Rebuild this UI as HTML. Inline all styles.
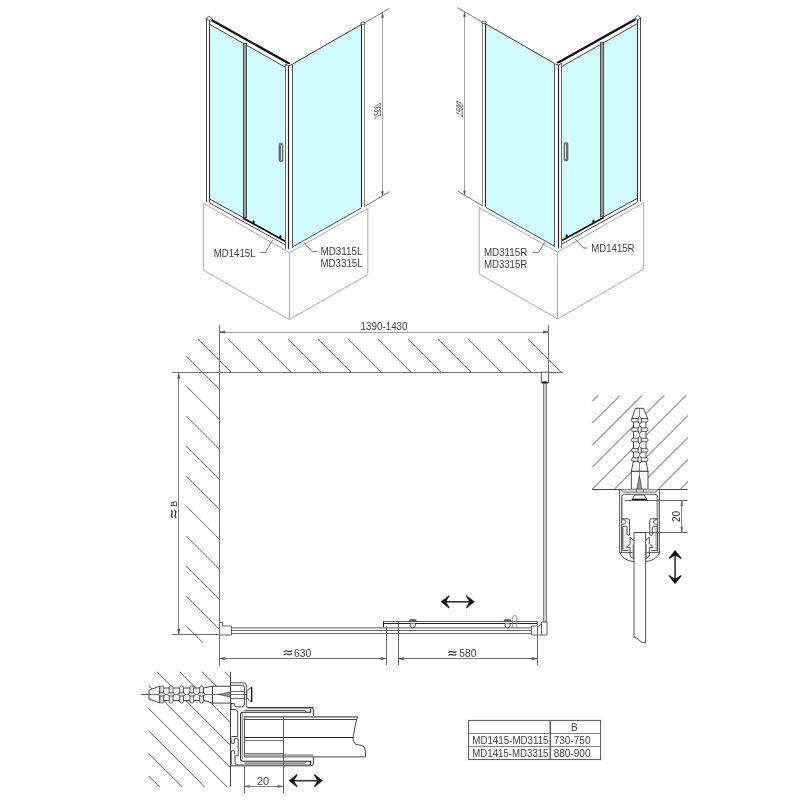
<!DOCTYPE html>
<html><head><meta charset="utf-8"><style>
html,body{margin:0;padding:0;background:#fff;}
svg{display:block;will-change:transform;}
text{font-family:"Liberation Sans",sans-serif;}
</style></head><body>
<svg width="800" height="800" viewBox="0 0 800 800">
<rect width="800" height="800" fill="#fff"/>
<g font-family="Liberation Sans, sans-serif">
<g>
<polygon points="203.40,203.30 289.40,252.70 367.80,208.40 367.80,274.70 289.40,319.60 203.40,270.00" fill="#fff" stroke="#ababab" stroke-width="1" />
<line x1="289.50" y1="252.70" x2="289.50" y2="319.60" stroke="#ababab" stroke-width="1" />
<polygon points="209.70,24.33 243.30,43.38 243.30,217.64 209.70,199.06" fill="#d2fdfd" stroke="none" stroke-width="0" />
<polygon points="246.60,45.25 285.30,67.20 285.30,240.86 246.60,219.46" fill="#d2fdfd" stroke="none" stroke-width="0" />
<polygon points="292.70,64.00 360.60,24.96 360.60,208.44 292.70,246.80" fill="#d2fdfd" stroke="none" stroke-width="0" />
<line x1="292.70" y1="64.00" x2="361.50" y2="24.44" stroke="#333" stroke-width="1" />
<line x1="292.70" y1="246.80" x2="361.30" y2="208.04" stroke="#3a3a3a" stroke-width="0.9" />
<line x1="211.50" y1="20.00" x2="290.00" y2="64.04" stroke="#111" stroke-width="2.3" />
<line x1="210.00" y1="24.50" x2="285.30" y2="67.20" stroke="#333" stroke-width="0.9" />
<line x1="209.60" y1="199.00" x2="243.30" y2="217.64" stroke="#333" stroke-width="1" />
<line x1="243.30" y1="218.14" x2="285.00" y2="241.20" stroke="#111" stroke-width="1.8" />
<line x1="209.60" y1="203.00" x2="285.00" y2="244.70" stroke="#333" stroke-width="0.9" />
<ellipse cx="253.6" cy="222.0" rx="1.1" ry="1.7" fill="#111"/>
<ellipse cx="280.4" cy="236.7" rx="1.1" ry="1.7" fill="#111"/>
<rect x="206.5" y="18.5" width="3.2" height="183.8" fill="#fff" stroke="none"/>
<line x1="206.50" y1="18.50" x2="206.50" y2="202.30" stroke="#333" stroke-width="0.9" />
<line x1="209.50" y1="19.50" x2="209.50" y2="202.30" stroke="#333" stroke-width="1.1" />
<polygon points="206.00,18.50 209.50,16.00 212.00,18.50 209.50,20.50" fill="#fff" stroke="#333" stroke-width="0.8" />
<rect x="243.3" y="43.38" width="3.3" height="174.25" fill="#999" stroke="#333" stroke-width="0.8"/>
<rect x="285.4" y="64" width="7.1" height="185" fill="#fff" stroke="none"/>
<line x1="285.50" y1="64.00" x2="285.50" y2="249.00" stroke="#666" stroke-width="1.0" />
<line x1="292.50" y1="64.50" x2="292.50" y2="248.00" stroke="#555" stroke-width="1.0" />
<line x1="288.50" y1="65.50" x2="288.50" y2="249.00" stroke="#222" stroke-width="1.2" />
<polyline points="285.40,64.00 288.60,65.80 292.50,64.30" fill="none" stroke="#333" stroke-width="0.9" />
<rect x="361.25" y="23" width="3.25" height="184.3" fill="#fff" stroke="none"/>
<line x1="361.50" y1="23.50" x2="361.50" y2="207.30" stroke="#222" stroke-width="1.1" />
<line x1="364.50" y1="23.50" x2="364.50" y2="206.80" stroke="#888" stroke-width="1.0" />
<ellipse cx="362.8" cy="23.2" rx="2.3" ry="1.1" fill="#fff" stroke="#333" stroke-width="0.8"/>
<rect x="279" y="143.2" width="3.9" height="18.5" rx="1.6" fill="#777" stroke="#444" stroke-width="0.6"/>
<rect x="281" y="145" width="1" height="15" fill="#ddd"/>
<line x1="364.50" y1="23.00" x2="389.50" y2="8.30" stroke="#555" stroke-width="0.8" />
<line x1="364.60" y1="206.50" x2="389.50" y2="191.60" stroke="#555" stroke-width="0.8" />
<line x1="382.50" y1="13.50" x2="382.50" y2="195.50" stroke="#999" stroke-width="0.9" />
<polygon points="382.50,13.00 383.40,17.50 381.60,17.50" fill="#555" stroke="#555" stroke-width="0.5" />
<polygon points="382.50,196.00 381.60,191.50 383.40,191.50" fill="#555" stroke="#555" stroke-width="0.5" />
</g>
<g transform="matrix(-1,0,0,1,847,-0.7)">
<g>
<polygon points="203.40,203.30 289.40,252.70 367.80,208.40 367.80,274.70 289.40,319.60 203.40,270.00" fill="#fff" stroke="#ababab" stroke-width="1" />
<line x1="289.50" y1="252.70" x2="289.50" y2="319.60" stroke="#ababab" stroke-width="1" />
<polygon points="209.70,24.33 243.30,43.38 243.30,217.64 209.70,199.06" fill="#d2fdfd" stroke="none" stroke-width="0" />
<polygon points="246.60,45.25 285.30,67.20 285.30,240.86 246.60,219.46" fill="#d2fdfd" stroke="none" stroke-width="0" />
<polygon points="292.70,64.00 360.60,24.96 360.60,208.44 292.70,246.80" fill="#d2fdfd" stroke="none" stroke-width="0" />
<line x1="292.70" y1="64.00" x2="361.50" y2="24.44" stroke="#333" stroke-width="1" />
<line x1="292.70" y1="246.80" x2="361.30" y2="208.04" stroke="#3a3a3a" stroke-width="0.9" />
<line x1="211.50" y1="20.00" x2="290.00" y2="64.04" stroke="#111" stroke-width="2.3" />
<line x1="210.00" y1="24.50" x2="285.30" y2="67.20" stroke="#333" stroke-width="0.9" />
<line x1="209.60" y1="199.00" x2="243.30" y2="217.64" stroke="#333" stroke-width="1" />
<line x1="243.30" y1="218.14" x2="285.00" y2="241.20" stroke="#111" stroke-width="1.8" />
<line x1="209.60" y1="203.00" x2="285.00" y2="244.70" stroke="#333" stroke-width="0.9" />
<ellipse cx="253.6" cy="222.0" rx="1.1" ry="1.7" fill="#111"/>
<ellipse cx="280.4" cy="236.7" rx="1.1" ry="1.7" fill="#111"/>
<rect x="206.5" y="18.5" width="3.2" height="183.8" fill="#fff" stroke="none"/>
<line x1="206.50" y1="18.50" x2="206.50" y2="202.30" stroke="#333" stroke-width="0.9" />
<line x1="209.50" y1="19.50" x2="209.50" y2="202.30" stroke="#333" stroke-width="1.1" />
<polygon points="206.00,18.50 209.50,16.00 212.00,18.50 209.50,20.50" fill="#fff" stroke="#333" stroke-width="0.8" />
<rect x="243.3" y="43.38" width="3.3" height="174.25" fill="#999" stroke="#333" stroke-width="0.8"/>
<rect x="285.4" y="64" width="7.1" height="185" fill="#fff" stroke="none"/>
<line x1="285.50" y1="64.00" x2="285.50" y2="249.00" stroke="#666" stroke-width="1.0" />
<line x1="292.50" y1="64.50" x2="292.50" y2="248.00" stroke="#555" stroke-width="1.0" />
<line x1="288.50" y1="65.50" x2="288.50" y2="249.00" stroke="#222" stroke-width="1.2" />
<polyline points="285.40,64.00 288.60,65.80 292.50,64.30" fill="none" stroke="#333" stroke-width="0.9" />
<rect x="361.25" y="23" width="3.25" height="184.3" fill="#fff" stroke="none"/>
<line x1="361.50" y1="23.50" x2="361.50" y2="207.30" stroke="#222" stroke-width="1.1" />
<line x1="364.50" y1="23.50" x2="364.50" y2="206.80" stroke="#888" stroke-width="1.0" />
<ellipse cx="362.8" cy="23.2" rx="2.3" ry="1.1" fill="#fff" stroke="#333" stroke-width="0.8"/>
<rect x="279" y="143.2" width="3.9" height="18.5" rx="1.6" fill="#777" stroke="#444" stroke-width="0.6"/>
<rect x="281" y="145" width="1" height="15" fill="#ddd"/>
<line x1="364.50" y1="23.00" x2="389.50" y2="8.30" stroke="#555" stroke-width="0.8" />
<line x1="364.60" y1="206.50" x2="389.50" y2="191.60" stroke="#555" stroke-width="0.8" />
<line x1="382.50" y1="13.50" x2="382.50" y2="195.50" stroke="#999" stroke-width="0.9" />
<polygon points="382.50,13.00 383.40,17.50 381.60,17.50" fill="#555" stroke="#555" stroke-width="0.5" />
<polygon points="382.50,196.00 381.60,191.50 383.40,191.50" fill="#555" stroke="#555" stroke-width="0.5" />
</g>
</g>
<text x="213.70" y="257.10" font-size="10" textLength="41.80" lengthAdjust="spacingAndGlyphs" fill="#404040" >MD1415L</text>
<text x="320.50" y="254.80" font-size="10" textLength="42.10" lengthAdjust="spacingAndGlyphs" fill="#404040" >MD3115L</text>
<text x="320.50" y="266.80" font-size="10" textLength="42.10" lengthAdjust="spacingAndGlyphs" fill="#404040" >MD3315L</text>
<text x="483.90" y="256.00" font-size="10" textLength="43.40" lengthAdjust="spacingAndGlyphs" fill="#404040" >MD3115R</text>
<text x="483.90" y="268.00" font-size="10" textLength="43.40" lengthAdjust="spacingAndGlyphs" fill="#404040" >MD3315R</text>
<text x="591.30" y="251.60" font-size="10" textLength="43.20" lengthAdjust="spacingAndGlyphs" fill="#404040" >MD1415R</text>
<polyline points="272.90,239.60 265.40,252.60 259.70,252.60" fill="none" stroke="#555" stroke-width="0.8" />
<polyline points="303.80,242.30 312.30,251.60 317.50,251.60" fill="none" stroke="#555" stroke-width="0.8" />
<polyline points="544.80,242.30 538.60,252.40 532.50,252.40" fill="none" stroke="#555" stroke-width="0.8" />
<polyline points="575.00,238.80 583.60,248.00 587.60,248.00" fill="none" stroke="#555" stroke-width="0.8" />
<g transform="translate(381,116.3) rotate(-90) skewX(30)"><text x="0" y="0" font-size="9.6" textLength="14" lengthAdjust="spacingAndGlyphs" fill="#333">1500</text></g>
<g transform="translate(462.5,118) rotate(-90) skewX(-30)"><text x="0" y="0" font-size="9.6" textLength="14" lengthAdjust="spacingAndGlyphs" fill="#333">1500</text></g>
<line x1="198.00" y1="339.00" x2="231.20" y2="372.20" stroke="#555" stroke-width="0.9" />
<line x1="228.00" y1="339.00" x2="261.20" y2="372.20" stroke="#555" stroke-width="0.9" />
<line x1="258.00" y1="339.00" x2="291.20" y2="372.20" stroke="#555" stroke-width="0.9" />
<line x1="288.00" y1="339.00" x2="321.20" y2="372.20" stroke="#555" stroke-width="0.9" />
<line x1="318.00" y1="339.00" x2="351.20" y2="372.20" stroke="#555" stroke-width="0.9" />
<line x1="348.00" y1="339.00" x2="381.20" y2="372.20" stroke="#555" stroke-width="0.9" />
<line x1="378.00" y1="339.00" x2="411.20" y2="372.20" stroke="#555" stroke-width="0.9" />
<line x1="408.00" y1="339.00" x2="441.20" y2="372.20" stroke="#555" stroke-width="0.9" />
<line x1="438.00" y1="339.00" x2="471.20" y2="372.20" stroke="#555" stroke-width="0.9" />
<line x1="468.00" y1="339.00" x2="501.20" y2="372.20" stroke="#555" stroke-width="0.9" />
<line x1="498.00" y1="339.00" x2="531.20" y2="372.20" stroke="#555" stroke-width="0.9" />
<line x1="528.00" y1="339.00" x2="561.00" y2="372.00" stroke="#555" stroke-width="0.9" />
<line x1="186.30" y1="356.10" x2="219.60" y2="389.40" stroke="#555" stroke-width="0.9" />
<line x1="186.30" y1="386.10" x2="219.60" y2="419.40" stroke="#555" stroke-width="0.9" />
<line x1="186.30" y1="416.10" x2="219.60" y2="449.40" stroke="#555" stroke-width="0.9" />
<line x1="186.30" y1="446.10" x2="219.60" y2="479.40" stroke="#555" stroke-width="0.9" />
<line x1="186.30" y1="476.10" x2="219.60" y2="509.40" stroke="#555" stroke-width="0.9" />
<line x1="186.30" y1="506.10" x2="219.60" y2="539.40" stroke="#555" stroke-width="0.9" />
<line x1="186.30" y1="536.10" x2="219.60" y2="569.40" stroke="#555" stroke-width="0.9" />
<line x1="186.30" y1="566.10" x2="219.60" y2="599.40" stroke="#555" stroke-width="0.9" />
<line x1="186.30" y1="596.10" x2="219.60" y2="629.40" stroke="#555" stroke-width="0.9" />
<line x1="186.30" y1="626.10" x2="203.00" y2="642.80" stroke="#555" stroke-width="0.9" />
<line x1="219.50" y1="325.00" x2="219.50" y2="666.50" stroke="#707070" stroke-width="1" />
<line x1="172.00" y1="372.50" x2="562.50" y2="372.50" stroke="#707070" stroke-width="1" />
<line x1="172.00" y1="634.50" x2="219.60" y2="634.50" stroke="#707070" stroke-width="1" />
<line x1="219.60" y1="332.50" x2="548.70" y2="332.50" stroke="#999" stroke-width="0.9" />
<polygon points="219.80,332.00 224.80,330.80 224.80,333.20" fill="#555" stroke="#555" stroke-width="0.5" />
<polygon points="548.50,332.00 543.50,333.20 543.50,330.80" fill="#555" stroke="#555" stroke-width="0.5" />
<line x1="548.50" y1="325.00" x2="548.50" y2="372.20" stroke="#707070" stroke-width="1" />
<text x="360.60" y="330.00" font-size="10" textLength="46.90" lengthAdjust="spacingAndGlyphs" fill="#404040" >1390-1430</text>
<line x1="178.50" y1="373.80" x2="178.50" y2="633.80" stroke="#777" stroke-width="0.9" />
<polygon points="178.80,373.50 180.00,378.50 177.60,378.50" fill="#555" stroke="#555" stroke-width="0.5" />
<polygon points="178.80,634.00 177.60,629.00 180.00,629.00" fill="#555" stroke="#555" stroke-width="0.5" />
<g transform="translate(176.75,517.75) rotate(-90)">
<path d="M0.00,-4.00 C2.25,-7.90 5.25,-1.90 7.50,-5.80" fill="none" stroke="#404040" stroke-width="1.35"/>
<path d="M0.00,-0.40 C2.25,-4.30 5.25,1.70 7.50,-2.20" fill="none" stroke="#404040" stroke-width="1.35"/>
<text x="11" y="0" font-size="9.6" textLength="6" lengthAdjust="spacingAndGlyphs" fill="#333">B</text>
</g>
<rect x="541.3" y="372.2" width="7.4" height="10.6" fill="#fff" stroke="#4a4a4a" stroke-width="0.9"/>
<rect x="542" y="381.6" width="5.5" height="1.8" rx="0.9" fill="#111"/>
<rect x="543.6" y="383.4" width="2.8" height="238.6" fill="#ccc" stroke="#555" stroke-width="0.7"/>
<rect x="231.5" y="627" width="300" height="1.6" fill="#999"/>
<line x1="231.50" y1="630.50" x2="531.50" y2="630.50" stroke="#555" stroke-width="0.9" />
<line x1="231.50" y1="633.50" x2="531.50" y2="633.50" stroke="#555" stroke-width="0.9" />
<path d="M219.6,622.5 L222.6,622.5 L222.6,626 L231.5,626 L231.5,635 L219.6,635" fill="none" stroke="#555" stroke-width="0.9" />
<path d="M541.5,622 L547,622 L547,635 L531.5,635 L531.5,626 L538.5,626 Q541.5,626 541.5,622 L541.5,635" fill="#fff" stroke="#555" stroke-width="0.9" />
<line x1="383.10" y1="621.50" x2="537.00" y2="621.50" stroke="#555" stroke-width="0.9" />
<line x1="383.10" y1="623.50" x2="537.00" y2="623.50" stroke="#222" stroke-width="1.1" />
<line x1="383.50" y1="621.40" x2="383.50" y2="627.20" stroke="#222" stroke-width="1.1" />
<line x1="537.50" y1="621.40" x2="537.50" y2="625.00" stroke="#444" stroke-width="0.9" />
<rect x="409.3" y="619.5" width="7" height="2.2" rx="1" fill="#666" stroke="#444" stroke-width="0.5"/>
<path d="M410.3,623.4 L410.3,625.5 Q410.3,627.8 412.8,627.8 Q415.3,627.8 415.3,625.5 L415.3,623.4" fill="#eee" stroke="#333" stroke-width="0.8"/>
<rect x="504.0" y="619.5" width="7" height="2.2" rx="1" fill="#666" stroke="#444" stroke-width="0.5"/>
<path d="M505.0,623.4 L505.0,625.5 Q505.0,627.8 507.5,627.8 Q510.0,627.8 510.0,625.5 L510.0,623.4" fill="#eee" stroke="#333" stroke-width="0.8"/>
<path d="M512.7,627.3 L512.7,617.3 Q512.7,615.5 514.7,615.5 Q516.8,615.5 516.8,617.3 L516.8,627.3" fill="none" stroke="#777" stroke-width="0.8"/>
<line x1="445.00" y1="601.80" x2="470.50" y2="601.80" stroke="#333" stroke-width="1.6" />
<path d="M441.00,601.80 Q444.20,599.50 449.00,595.40 L449.20,596.30 Q446.40,600.20 446.00,601.80 Q446.40,603.40 449.20,607.30 L449.00,608.20 Q444.20,604.10 441.00,601.80 Z" fill="#111" stroke="#111" stroke-width="0.5" stroke-linejoin="round"/>
<path d="M474.50,601.80 Q471.30,599.50 466.50,595.40 L466.30,596.30 Q469.10,600.20 469.50,601.80 Q469.10,603.40 466.30,607.30 L466.50,608.20 Q471.30,604.10 474.50,601.80 Z" fill="#111" stroke="#111" stroke-width="0.5" stroke-linejoin="round"/>
<line x1="386.50" y1="626.00" x2="386.50" y2="665.00" stroke="#555" stroke-width="0.9" />
<line x1="398.50" y1="621.30" x2="398.50" y2="665.00" stroke="#555" stroke-width="0.9" />
<line x1="537.50" y1="626.00" x2="537.50" y2="665.50" stroke="#555" stroke-width="0.9" />
<line x1="219.60" y1="658.50" x2="386.30" y2="658.50" stroke="#666" stroke-width="0.9" />
<polygon points="219.80,658.60 224.80,657.40 224.80,659.80" fill="#555" stroke="#555" stroke-width="0.5" />
<polygon points="386.10,658.60 381.10,659.80 381.10,657.40" fill="#555" stroke="#555" stroke-width="0.5" />
<line x1="398.40" y1="658.50" x2="537.00" y2="658.50" stroke="#666" stroke-width="0.9" />
<polygon points="398.60,658.80 403.60,657.60 403.60,660.00" fill="#555" stroke="#555" stroke-width="0.5" />
<polygon points="536.80,658.80 531.80,660.00 531.80,657.60" fill="#555" stroke="#555" stroke-width="0.5" />
<path d="M283.80,652.10 C286.20,648.20 289.40,654.20 291.80,650.30" fill="none" stroke="#404040" stroke-width="1.35"/>
<path d="M283.80,655.20 C286.20,651.30 289.40,657.30 291.80,653.40" fill="none" stroke="#404040" stroke-width="1.35"/>
<text x="294.03" y="657.00" font-size="11" textLength="17.32" lengthAdjust="spacingAndGlyphs" fill="#404040" >630</text>
<path d="M448.50,652.80 C450.84,648.90 453.96,654.90 456.30,651.00" fill="none" stroke="#404040" stroke-width="1.35"/>
<path d="M448.50,655.70 C450.84,651.80 453.96,657.80 456.30,653.90" fill="none" stroke="#404040" stroke-width="1.35"/>
<text x="459.23" y="657.30" font-size="11" textLength="17.12" lengthAdjust="spacingAndGlyphs" fill="#404040" >580</text>
<rect x="468.6" y="720.4" width="132" height="39.2" fill="#fff" stroke="#555" stroke-width="1"/>
<line x1="468.60" y1="733.50" x2="600.60" y2="733.50" stroke="#777" stroke-width="0.9" />
<line x1="468.60" y1="746.50" x2="600.60" y2="746.50" stroke="#777" stroke-width="0.9" />
<line x1="550.30" y1="720.40" x2="550.30" y2="759.60" stroke="#666" stroke-width="1.6" />
<text x="574.4" y="731.2" font-size="10" text-anchor="middle" fill="#404040" >B</text>
<text x="472.30" y="744.00" font-size="10" textLength="76.20" lengthAdjust="spacingAndGlyphs" fill="#404040" >MD1415-MD3115</text>
<text x="472.30" y="756.80" font-size="10" textLength="76.20" lengthAdjust="spacingAndGlyphs" fill="#404040" >MD1415-MD3315</text>
<text x="553.70" y="744.00" font-size="10" textLength="36.80" lengthAdjust="spacingAndGlyphs" fill="#404040" >730-750</text>
<text x="553.70" y="756.80" font-size="10" textLength="36.80" lengthAdjust="spacingAndGlyphs" fill="#404040" >880-900</text>
<line x1="592.20" y1="401.30" x2="598.10" y2="395.40" stroke="#444" stroke-width="0.9" />
<line x1="592.20" y1="423.30" x2="620.10" y2="395.40" stroke="#444" stroke-width="0.9" />
<line x1="592.20" y1="445.30" x2="642.10" y2="395.40" stroke="#444" stroke-width="0.9" />
<line x1="592.20" y1="467.30" x2="664.10" y2="395.40" stroke="#444" stroke-width="0.9" />
<line x1="592.30" y1="489.20" x2="686.10" y2="395.40" stroke="#444" stroke-width="0.9" />
<line x1="614.30" y1="489.20" x2="688.00" y2="415.50" stroke="#444" stroke-width="0.9" />
<line x1="636.30" y1="489.20" x2="688.00" y2="437.50" stroke="#444" stroke-width="0.9" />
<line x1="658.30" y1="489.20" x2="688.00" y2="459.50" stroke="#444" stroke-width="0.9" />
<line x1="680.30" y1="489.20" x2="688.00" y2="481.50" stroke="#444" stroke-width="0.9" />
<line x1="592.20" y1="489.50" x2="687.60" y2="489.50" stroke="#444" stroke-width="1" />
<polygon points="635.30,408.30 643.50,408.30 647.80,419.00 631.80,419.00" fill="#fff" stroke="#333" stroke-width="0.9" />
<rect x="633.5" y="419" width="12.5" height="42" fill="#fff" stroke="#333" stroke-width="0.9"/>
<polygon points="633.50,461.00 646.00,461.00 648.00,471.30 631.30,471.30" fill="#fff" stroke="#333" stroke-width="0.9" />
<rect x="631.3" y="471.3" width="16.7" height="17.9" fill="#fff" stroke="#333" stroke-width="0.9"/>
<rect x="631.5" y="418.4" width="16.5" height="3.6" rx="1.6" fill="#eee" stroke="#333" stroke-width="0.8"/>
<rect x="631.5" y="427.8" width="16.5" height="3.6" rx="1.6" fill="#eee" stroke="#333" stroke-width="0.8"/>
<rect x="631.5" y="438.2" width="16.5" height="3.6" rx="1.6" fill="#eee" stroke="#333" stroke-width="0.8"/>
<rect x="631.5" y="448.4" width="16.5" height="3.6" rx="1.6" fill="#eee" stroke="#333" stroke-width="0.8"/>
<rect x="631.5" y="457.7" width="16.5" height="3.6" rx="1.6" fill="#eee" stroke="#333" stroke-width="0.8"/>
<line x1="639.50" y1="408.30" x2="639.50" y2="489.20" stroke="#555" stroke-width="0.7" />
<ellipse cx="639.7" cy="420.2" rx="1.7" ry="3.6" fill="#f2f2f2" stroke="#333" stroke-width="0.85"/>
<ellipse cx="639.7" cy="429.6" rx="1.7" ry="3.6" fill="#f2f2f2" stroke="#333" stroke-width="0.85"/>
<ellipse cx="639.7" cy="440.0" rx="1.7" ry="3.6" fill="#f2f2f2" stroke="#333" stroke-width="0.85"/>
<ellipse cx="639.7" cy="450.2" rx="1.7" ry="3.6" fill="#f2f2f2" stroke="#333" stroke-width="0.85"/>
<ellipse cx="639.7" cy="459.5" rx="1.7" ry="3.6" fill="#f2f2f2" stroke="#333" stroke-width="0.85"/>
<polygon points="639.40,475.80 636.80,489.20 642.00,489.20" fill="#999" stroke="#222" stroke-width="0.6" />
<path d="M619.6,489.3 L619.6,552.6 L659.4,552.6 L659.4,489.3" fill="none" stroke="#444" stroke-width="0.9" />
<path d="M621.6,489.4 Q621.6,492.25 624.5,492.25 L654.8,492.25 Q657.6,492.25 657.6,489.4" fill="#d8d8d8" stroke="#666" stroke-width="0.8" />
<line x1="636.50" y1="489.40" x2="636.50" y2="492.30" stroke="#444" stroke-width="0.7" />
<line x1="643.50" y1="489.40" x2="643.50" y2="492.30" stroke="#444" stroke-width="0.7" />
<path d="M621.6,552.6 L621.6,497.3 Q621.6,494.3 624.6,494.3 L654.7,494.3 Q657.7,494.3 657.7,497.3 L657.7,552.6" fill="none" stroke="#444" stroke-width="0.9" />
<rect x="621.9" y="497" width="1.2" height="21.5" fill="#bbb"/>
<rect x="656.2" y="497" width="1.2" height="21.5" fill="#bbb"/>
<polygon points="634.70,495.00 644.30,495.00 647.00,499.80 632.00,499.80" fill="#fff" stroke="#333" stroke-width="0.8" />
<line x1="632.30" y1="499.50" x2="646.70" y2="499.50" stroke="#111" stroke-width="1.6" />
<g>
<path d="M621.6,518.8 L628,518.8 Q629.6,518.8 629.6,520.5 L629.6,534 Q629.6,535.3 628.3,535.3 Q627,535.3 627,534 L627,527.5 Q627,526.3 625.8,526.3 L623.3,526.3 Q622.3,526.3 622.3,527.5 L622.3,549.5 Q622.3,550.6 623.5,550.6 L628.5,550.6" fill="none" stroke="#333" stroke-width="0.9" />
<path d="M621.9,519.6 Q625.8,519.4 626.1,521.9 Q625.8,524.6 621.9,524.3" fill="none" stroke="#333" stroke-width="0.8" />
<rect x="622.9" y="527.5" width="1.3" height="22" fill="#bbb"/>
<path d="M634,540.6 L630.1,537.2 L630.1,543.4 L626.4,547.4 L630.1,547.4 L630.1,556 L634,559.2" fill="none" stroke="#333" stroke-width="0.9" />
<path d="M619.8,552.6 Q623.5,560.8 634,561.6" fill="none" stroke="#333" stroke-width="0.9" />
<rect x="632.5" y="544.4" width="1.6" height="13.7" fill="#999"/>
</g>
<g transform="matrix(-1,0,0,1,1279.4,0)">
<path d="M621.6,518.8 L628,518.8 Q629.6,518.8 629.6,520.5 L629.6,534 Q629.6,535.3 628.3,535.3 Q627,535.3 627,534 L627,527.5 Q627,526.3 625.8,526.3 L623.3,526.3 Q622.3,526.3 622.3,527.5 L622.3,549.5 Q622.3,550.6 623.5,550.6 L628.5,550.6" fill="none" stroke="#333" stroke-width="0.9" />
<path d="M621.9,519.6 Q625.8,519.4 626.1,521.9 Q625.8,524.6 621.9,524.3" fill="none" stroke="#333" stroke-width="0.8" />
<rect x="622.9" y="527.5" width="1.3" height="22" fill="#bbb"/>
<path d="M634,540.6 L630.1,537.2 L630.1,543.4 L626.4,547.4 L630.1,547.4 L630.1,556 L634,559.2" fill="none" stroke="#333" stroke-width="0.9" />
<path d="M619.8,552.6 Q623.5,560.8 634,561.6" fill="none" stroke="#333" stroke-width="0.9" />
<rect x="632.5" y="544.4" width="1.6" height="13.7" fill="#999"/>
</g>
<path d="M634,532.5 L634,637 Q637,637.5 640,641 Q642,643.2 645.6,643 L645.6,532.5 Z" fill="#fff" stroke="#444" stroke-width="0.9" />
<line x1="624.80" y1="500.50" x2="687.60" y2="500.50" stroke="#555" stroke-width="0.9" />
<line x1="645.60" y1="532.50" x2="687.60" y2="532.50" stroke="#555" stroke-width="0.9" />
<line x1="634.00" y1="532.50" x2="645.60" y2="532.50" stroke="#444" stroke-width="0.9" />
<line x1="681.50" y1="501.00" x2="681.50" y2="532.00" stroke="#666" stroke-width="0.8" />
<polygon points="681.90,500.80 683.00,505.80 680.80,505.80" fill="#666" stroke="#666" stroke-width="0.5" />
<polygon points="681.90,532.30 680.80,527.30 683.00,527.30" fill="#666" stroke="#666" stroke-width="0.5" />
<g transform="translate(680.1,522.1) rotate(-90)"><text x="0" y="0" font-size="10" textLength="11.2" lengthAdjust="spacingAndGlyphs" fill="#333">20</text></g>
<line x1="675.10" y1="554.30" x2="675.10" y2="579.80" stroke="#333" stroke-width="1.6" />
<path d="M675.10,550.30 Q677.40,553.50 681.50,558.30 L680.60,558.50 Q676.70,555.70 675.10,555.30 Q673.50,555.70 669.60,558.50 L668.70,558.30 Q672.80,553.50 675.10,550.30 Z" fill="#111" stroke="#111" stroke-width="0.5" stroke-linejoin="round"/>
<path d="M675.10,583.80 Q677.40,580.60 681.50,575.80 L680.60,575.60 Q676.70,578.40 675.10,578.80 Q673.50,578.40 669.60,575.60 L668.70,575.80 Q672.80,580.60 675.10,583.80 Z" fill="#111" stroke="#111" stroke-width="0.5" stroke-linejoin="round"/>
<line x1="224.45" y1="671.70" x2="230.60" y2="677.85" stroke="#444" stroke-width="0.9" />
<line x1="201.95" y1="671.70" x2="230.60" y2="700.35" stroke="#444" stroke-width="0.9" />
<line x1="179.45" y1="671.70" x2="230.60" y2="722.85" stroke="#444" stroke-width="0.9" />
<line x1="156.95" y1="671.70" x2="230.60" y2="745.35" stroke="#444" stroke-width="0.9" />
<line x1="148.70" y1="685.95" x2="230.60" y2="767.85" stroke="#444" stroke-width="0.9" />
<line x1="148.70" y1="708.45" x2="227.15" y2="786.90" stroke="#444" stroke-width="0.9" />
<line x1="148.70" y1="730.95" x2="204.65" y2="786.90" stroke="#444" stroke-width="0.9" />
<line x1="148.70" y1="753.45" x2="182.15" y2="786.90" stroke="#444" stroke-width="0.9" />
<line x1="148.70" y1="775.95" x2="159.65" y2="786.90" stroke="#444" stroke-width="0.9" />
<line x1="230.50" y1="671.70" x2="230.50" y2="786.30" stroke="#444" stroke-width="1" />
<line x1="141.00" y1="694.50" x2="252.00" y2="694.50" stroke="#555" stroke-width="0.8" />
<polygon points="149.00,690.25 159.90,686.10 159.90,703.00 149.00,698.90" fill="#fff" stroke="#333" stroke-width="0.9" />
<rect x="159.9" y="688" width="43.6" height="12.4" fill="#fff" stroke="#333" stroke-width="0.9"/>
<polygon points="203.50,688.00 212.50,686.20 212.50,703.10 203.50,700.40" fill="#fff" stroke="#333" stroke-width="0.9" />
<rect x="212.5" y="686.2" width="18.1" height="16.9" fill="#fff" stroke="#333" stroke-width="0.9"/>
<line x1="141.00" y1="694.50" x2="230.00" y2="694.50" stroke="#555" stroke-width="0.8" />
<rect x="159.9" y="686" width="3.8" height="17" rx="1.6" fill="#eee" stroke="#333" stroke-width="0.8"/>
<ellipse cx="161.8" cy="694.4" rx="3.6" ry="1.7" fill="#f2f2f2" stroke="#333" stroke-width="0.85"/>
<rect x="169.2" y="686" width="3.8" height="17" rx="1.6" fill="#eee" stroke="#333" stroke-width="0.8"/>
<ellipse cx="171.1" cy="694.4" rx="3.6" ry="1.7" fill="#f2f2f2" stroke="#333" stroke-width="0.85"/>
<rect x="179.7" y="686" width="3.8" height="17" rx="1.6" fill="#eee" stroke="#333" stroke-width="0.8"/>
<ellipse cx="181.6" cy="694.4" rx="3.6" ry="1.7" fill="#f2f2f2" stroke="#333" stroke-width="0.85"/>
<rect x="189.9" y="686" width="3.8" height="17" rx="1.6" fill="#eee" stroke="#333" stroke-width="0.8"/>
<ellipse cx="191.8" cy="694.4" rx="3.6" ry="1.7" fill="#f2f2f2" stroke="#333" stroke-width="0.85"/>
<rect x="199.6" y="686" width="3.8" height="17" rx="1.6" fill="#eee" stroke="#333" stroke-width="0.8"/>
<ellipse cx="201.5" cy="694.4" rx="3.6" ry="1.7" fill="#f2f2f2" stroke="#333" stroke-width="0.85"/>
<polygon points="218.00,694.40 230.50,692.00 230.50,697.00" fill="#999" stroke="#222" stroke-width="0.6" />
<path d="M230.5,682.8 L244,682.8 Q246.3,682.8 246.3,685 L246.3,705.5 Q246.3,707.5 248.5,707.5 L313.7,707.5" fill="none" stroke="#444" stroke-width="0.9" />
<path d="M230.5,685.3 L242.5,685.3 Q244.4,685.3 244.4,687.5 L244.4,704 Q244.4,706.8 241.6,706.8 L236.5,706.8 Q234.5,706.8 234.5,705 L234.5,703.6 L231,703.6 L231,709.5 L235,709.5 Q237.7,709.5 237.7,712.6 L237.7,736.5 L231.3,736.5" fill="none" stroke="#333" stroke-width="0.9" />
<path d="M231.2,738.2 L231.2,742 Q231.2,743.6 232.8,743.6 Q234.5,743.6 234.5,742 L234.5,738.7 L238.2,738.7 L238.2,755.8 L235,755.8 L235,762 Q235,764.5 237.5,764.5 L311,764.5" fill="none" stroke="#333" stroke-width="0.9" />
<path d="M231.2,764.5 L231.2,752 Q231.2,750.4 232.8,750.4 Q234.5,750.4 234.5,752 L234.5,754.3" fill="none" stroke="#333" stroke-width="0.9" />
<line x1="230.50" y1="691.50" x2="244.40" y2="691.50" stroke="#444" stroke-width="0.8" />
<line x1="230.50" y1="698.50" x2="244.40" y2="698.50" stroke="#444" stroke-width="0.8" />
<polygon points="246.90,690.60 251.60,687.20 251.60,701.90 246.90,698.10" fill="#fff" stroke="#333" stroke-width="0.8" />
<line x1="251.60" y1="687.20" x2="251.60" y2="701.90" stroke="#111" stroke-width="1.4" />
<path d="M247.5,707.7 L311,707.7 Q313.4,707.7 313.4,710 L313.4,716.5" fill="none" stroke="#333" stroke-width="1.0" />
<line x1="247.50" y1="708.50" x2="309.70" y2="708.50" stroke="#aaa" stroke-width="1.0" />
<path d="M313.4,757 L313.4,763.5 Q313.4,765.8 311,765.8 L230.5,765.8" fill="none" stroke="#333" stroke-width="1.0" />
<line x1="237.50" y1="764.50" x2="309.70" y2="764.50" stroke="#aaa" stroke-width="1.0" />
<path d="M310.6,708.4 L310.6,712.3 L243,712.3 Q240.6,712.3 240.6,714.7 L240.6,758.8 Q240.6,761.2 243,761.2 L310.6,761.2 L310.6,765.1" fill="none" stroke="#222" stroke-width="1.1" />
<path d="M244.5,710.4 L304.4,710.4 L306.4,712.2 M244.5,763.1 L304.4,763.1 L306.4,761.3" fill="none" stroke="#333" stroke-width="0.9" />
<path d="M242.6,714.3 L242.6,759.2" fill="none" stroke="#777" stroke-width="0.8" />
<path d="M244.4,716.6 L357.5,716.6 Q355,725 353.1,737.2 Q352.5,742 356,744.5 Q362,745 364.5,747 Q366,752 365.6,756.9 L244.4,756.9 Z" fill="#fff" stroke="#333" stroke-width="0.9" />
<rect x="244.4" y="716.2" width="113" height="1.5" fill="#888"/>
<line x1="244.40" y1="719.50" x2="356.40" y2="719.50" stroke="#333" stroke-width="0.9" />
<line x1="244.40" y1="737.50" x2="353.30" y2="737.50" stroke="#222" stroke-width="1.2" />
<line x1="244.40" y1="740.50" x2="283.10" y2="740.50" stroke="#555" stroke-width="0.8" />
<line x1="244.40" y1="753.50" x2="283.10" y2="753.50" stroke="#555" stroke-width="0.8" />
<rect x="244.4" y="754.3" width="69" height="1.6" fill="#999"/>
<line x1="283.50" y1="716.60" x2="283.50" y2="756.90" stroke="#444" stroke-width="0.9" />
<line x1="244.50" y1="766.50" x2="244.50" y2="793.10" stroke="#555" stroke-width="0.9" />
<line x1="283.50" y1="756.90" x2="283.50" y2="793.10" stroke="#555" stroke-width="0.9" />
<line x1="244.50" y1="786.50" x2="283.00" y2="786.50" stroke="#666" stroke-width="0.8" />
<polygon points="244.50,786.30 249.50,785.20 249.50,787.40" fill="#666" stroke="#666" stroke-width="0.5" />
<polygon points="282.90,786.30 277.90,787.40 277.90,785.20" fill="#666" stroke="#666" stroke-width="0.5" />
<text x="257.00" y="784.70" font-size="10" textLength="12.20" lengthAdjust="spacingAndGlyphs" fill="#404040" >20</text>
<line x1="293.00" y1="780.70" x2="318.50" y2="780.70" stroke="#333" stroke-width="1.6" />
<path d="M289.00,780.70 Q292.20,778.40 297.00,774.30 L297.20,775.20 Q294.40,779.10 294.00,780.70 Q294.40,782.30 297.20,786.20 L297.00,787.10 Q292.20,783.00 289.00,780.70 Z" fill="#111" stroke="#111" stroke-width="0.5" stroke-linejoin="round"/>
<path d="M322.50,780.70 Q319.30,778.40 314.50,774.30 L314.30,775.20 Q317.10,779.10 317.50,780.70 Q317.10,782.30 314.30,786.20 L314.50,787.10 Q319.30,783.00 322.50,780.70 Z" fill="#111" stroke="#111" stroke-width="0.5" stroke-linejoin="round"/>
</g>
</svg></body></html>
